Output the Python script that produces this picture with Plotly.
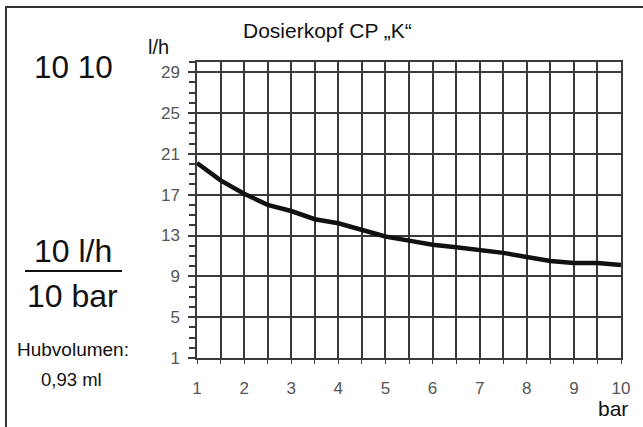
import plotly.graph_objects as go

# ---- data ----
pressure_bar = [1, 1.5, 2, 2.5, 3, 3.5, 4, 4.5, 5, 5.5, 6, 6.5, 7, 7.5, 8, 8.5, 9, 9.5, 10]
flow_lh = [20.1, 18.4, 17.1, 16.0, 15.4, 14.6, 14.2, 13.6, 12.9, 12.5, 12.1, 11.85, 11.6, 11.3, 10.9, 10.5, 10.3, 10.3, 10.1]
x_ticks = [1, 2, 3, 4, 5, 6, 7, 8, 9, 10]
y_ticks = [1, 5, 9, 13, 17, 21, 25, 29]
title_text = "Dosierkopf CP „K“"
model_text = "10 10"
rate_text = "10 l/h"
pressure_text = "10 bar"
stroke_label = "Hubvolumen:"
stroke_value = "0,93 ml"

W, H = 643, 427
L, R, T, B = 197, W - 621, 62, H - 358
PW, PH = W - L - R, H - T - B

def px(xp):
    return (xp - L) / PW

def py(yp):
    return 1 - (yp - T) / PH

FONT = "Arial, Liberation Sans, sans-serif"
GRID = "#3a3a3a"
TICKC = "#555555"

fig = go.Figure()
fig.add_trace(go.Scatter(x=pressure_bar, y=flow_lh, mode="lines",
                         line=dict(color="#111111", width=4.5), hoverinfo="skip"))

fig.update_xaxes(range=[1, 10], tickvals=x_ticks, ticktext=[str(v) for v in x_ticks],
                 showgrid=True, gridcolor=GRID, gridwidth=1.5,
                 showline=True, linecolor=GRID, linewidth=1.5, mirror=True,
                 ticks="outside", ticklen=4, tickcolor=GRID, tickwidth=1.2,
                 minor=dict(dtick=0.5, tick0=1, showgrid=True, gridcolor=GRID, gridwidth=1.5,
                            ticks="outside", ticklen=4, tickcolor=GRID),
                 tickfont=dict(family=FONT, size=17, color=TICKC),
                 ticklabelstandoff=10, zeroline=False, fixedrange=True)
fig.update_yaxes(range=[1, 30], tickvals=y_ticks, ticktext=[str(v) for v in y_ticks],
                 showgrid=True, gridcolor=GRID, gridwidth=1.5,
                 showline=True, linecolor=GRID, linewidth=1.5, mirror=True,
                 ticks="outside", ticklen=7, tickcolor=GRID, tickwidth=1.5,
                 minor=dict(dtick=1, tick0=1, showgrid=False, ticks="outside", ticklen=6,
                            tickcolor=GRID),
                 tickfont=dict(family=FONT, size=17, color=TICKC),
                 ticklabelstandoff=5, zeroline=False, fixedrange=True)

def ann(text, xp, yp, size, color="#111111"):
    fig.add_annotation(text=text, x=px(xp), y=py(yp), xref="paper", yref="paper",
                       xanchor="center", yanchor="middle", showarrow=False,
                       font=dict(family=FONT, size=size, color=color))

ann(title_text, 327, 30, 21)
ann("l/h", 158, 47, 20)
ann(model_text, 73.5, 67, 31.5)
ann(rate_text, 72.5, 251, 32)
ann(pressure_text, 72.5, 296, 32)
ann(stroke_label, 72.5, 349, 19)
ann(stroke_value, 72, 379, 18.5)
ann("bar", 613, 408, 21)

# fraction bar
fig.add_shape(type="line", xref="paper", yref="paper",
              x0=px(25), x1=px(122), y0=py(271), y1=py(271),
              line=dict(color="#111111", width=2))
# outer frame
fig.add_shape(type="rect", xref="paper", yref="paper",
              x0=px(6), x1=px(W + 20), y0=py(H + 20), y1=py(7),
              line=dict(color="#333333", width=2), fillcolor="rgba(0,0,0,0)", layer="below")

fig.update_layout(width=W, height=H, margin=dict(l=L, r=R, t=T, b=B),
                  paper_bgcolor="white", plot_bgcolor="white", showlegend=False)

fig.write_html("out.html", config={"displayModeBar": False},
               post_script="document.body.style.margin='0';document.body.style.overflow='hidden';")
